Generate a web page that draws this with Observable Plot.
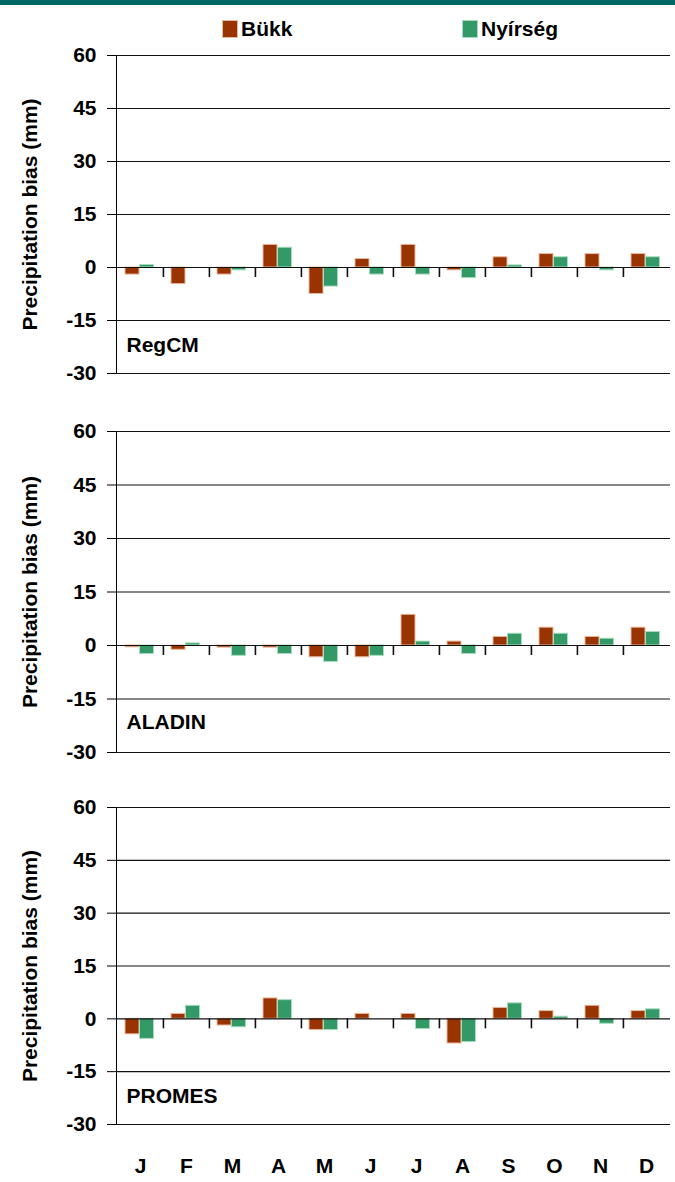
<!DOCTYPE html>
<html>
<head>
<meta charset="utf-8">
<script src="https://cdn.jsdelivr.net/npm/d3@7"></script>
<script src="https://cdn.jsdelivr.net/npm/@observablehq/plot@0.6"></script>
<style>
  html, body { margin: 0; padding: 0; background: white; }
  #wrap { width: 675px; font-family: "Liberation Sans", Arial, sans-serif; font-weight: bold; color: #000; }
  #band { height: 5px; background: #006666; }
  #legend { position: relative; height: 35px; }
  .lg-item { position: absolute; top: 13px; display: flex; align-items: center; font-size: 21px; line-height: 22px; }
  .lg-sw { width: 16px; height: 18px; margin-right: 3px; box-sizing: border-box; }
  svg { display: block; }
</style>
</head>
<body>
<div id="wrap">
  <div id="band"></div>
  <div id="legend"></div>
  <div id="charts"></div>
</div>
<script>
// ---- data ----
const monthKeys = ["Jan","Feb","Mar","Apr","May","Jun","Jul","Aug","Sep","Oct","Nov","Dec"];
const monthLabels = ["J","F","M","A","M","J","J","A","S","O","N","D"];
const seriesNames = ["Bükk", "Nyírség"];
const seriesColors = ["#993300", "#339966"];
const seriesStrokes = ["#e9b99f", "#a8dcc0"];
const yTicks = [-30, -15, 0, 15, 30, 45, 60];
const yLabel = "Precipitation bias (mm)";
const modelNames = ["RegCM", "ALADIN", "PROMES"];

const regcmBukk    = [-2.0, -4.7, -2.0,  6.4, -7.5,  2.4,  6.4, -0.8,  2.9,  3.8,  3.8,  3.8];
const regcmNyirseg = [ 0.7,  0.0, -0.8,  5.6, -5.4, -2.0, -2.0, -3.0,  0.6,  2.9, -0.8,  2.9];
const aladinBukk    = [-0.5, -1.2, -0.6, -0.6, -3.3, -3.3,  8.6,  1.1,  2.4,  5.0,  2.4,  5.0];
const aladinNyirseg = [-2.4,  0.6, -2.9, -2.4, -4.6, -2.9,  1.1, -2.4,  3.3,  3.3,  1.9,  3.8];
const promesBukk    = [-4.4,  1.4, -1.9,  5.8, -3.2,  1.4,  1.4, -7.0,  3.1,  2.2,  3.7,  2.2];
const promesNyirseg = [-5.7,  3.7, -2.4,  5.3, -3.2,  0.0, -2.9, -6.6,  4.4,  0.6, -1.4,  2.7];

// ---- legend ----
const legend = document.getElementById("legend");
const legendLeft = [222, 462];
seriesNames.forEach((name, i) => {
  const item = document.createElement("div");
  item.className = "lg-item";
  item.style.left = legendLeft[i] + "px";
  const sw = document.createElement("span");
  sw.className = "lg-sw";
  sw.style.background = seriesColors[i];
  sw.style.border = "1px solid " + seriesStrokes[i];
  item.appendChild(sw);
  const t = document.createElement("span");
  t.textContent = name;
  item.appendChild(t);
  legend.appendChild(item);
});

// ---- panels ----
const W = 675, ML = 116, MR = 5;
const BW = (W - ML - MR) / monthKeys.length;
const font = '"Liberation Sans", Arial, sans-serif';

function panel(model, bukk, nyir, layout) {
  const rowsB = monthKeys.map((m, i) => ({month: m, v: bukk[i]}));
  const rowsN = monthKeys.map((m, i) => ({month: m, v: nyir[i]}));
  return Plot.plot({
    width: W,
    height: layout.height,
    marginLeft: ML,
    marginRight: MR,
    marginTop: layout.top,
    marginBottom: layout.bottom,
    style: {fontSize: "21px", fontFamily: font, fontWeight: "bold", color: "#000", background: "white", overflow: "visible"},
    x: {
      type: "band", domain: monthKeys, padding: 0,
      axis: layout.showX ? "bottom" : null,
      tickFormat: (d) => monthLabels[monthKeys.indexOf(d)],
      tickSize: 0, tickPadding: 34, label: null
    },
    y: {
      domain: [yTicks[0], yTicks[yTicks.length - 1]],
      ticks: yTicks, tickFormat: (d) => `${d}`,
      tickSize: 9, tickPadding: 11, label: null, line: true
    },
    marks: [
      Plot.barY(rowsB, {x: "month", y1: 0, y2: "v", fill: seriesColors[0], stroke: seriesStrokes[0], strokeWidth: 1, insetLeft: 8, insetRight: 24}),
      Plot.barY(rowsN, {x: "month", y1: 0, y2: "v", fill: seriesColors[1], stroke: seriesStrokes[1], strokeWidth: 1, insetLeft: 22.5, insetRight: 9.5}),
      Plot.ruleY(yTicks, {stroke: "#111", strokeWidth: 1.2}),
      Plot.ruleX(monthKeys.slice(1), {y1: 0, y2: 0, insetBottom: -10, dx: -BW / 2, stroke: "#111", strokeWidth: 1.6}),
      Plot.text([model], {frameAnchor: "bottom-left", dx: 10, dy: layout.labelDy, textAnchor: "start", lineAnchor: "middle", fill: "#000"}),
      Plot.text([yLabel], {frameAnchor: "left", dx: -86, rotate: -90, textAnchor: "middle", lineAnchor: "middle", fill: "#000", fontSize: 21})
    ]
  });
}

const charts = document.getElementById("charts");
charts.appendChild(panel(modelNames[0], regcmBukk, regcmNyirseg, {height: 343, top: 15, bottom: 10, showX: false, labelDy: -28}));
charts.appendChild(panel(modelNames[1], aladinBukk, aladinNyirseg, {height: 379, top: 48, bottom: 10, showX: false, labelDy: -30}));
charts.appendChild(panel(modelNames[2], promesBukk, promesNyirseg, {height: 420, top: 45, bottom: 58, showX: true, labelDy: -28}));
</script>
</body>
</html>
